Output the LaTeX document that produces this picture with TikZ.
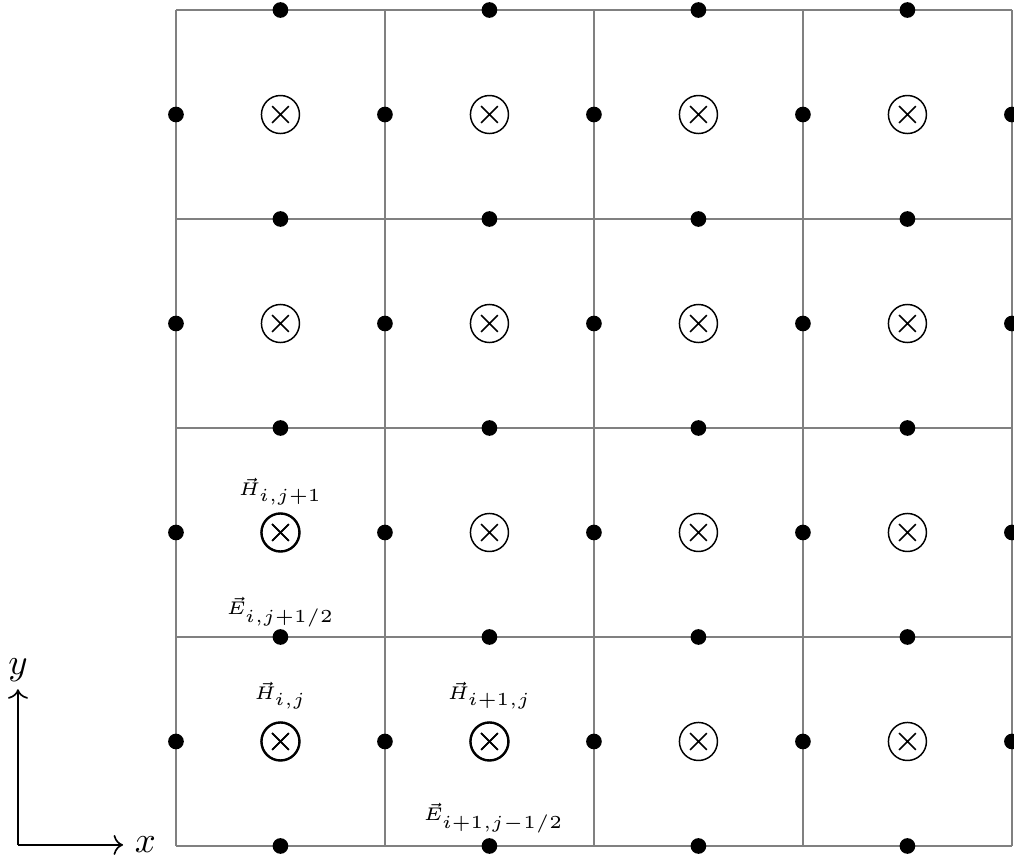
\documentclass[tikz,border=0pt]{standalone}
\usetikzlibrary{arrows.meta}
\tikzset{
  gridline/.style={draw=gray, line width=0.45pt},
  edot/.style={circle, fill=black, inner sep=0pt, minimum size=0.15cm},
  hfield/.style={circle, draw=black, inner sep=0pt, minimum size=0.364cm, line width=0.4pt,
    path picture={\draw[line width=0.45pt] ([shift={(-0.08cm,-0.08cm)}]path picture bounding box.center) -- ([shift={(0.08cm,0.08cm)}]path picture bounding box.center)
      ([shift={(-0.08cm,0.08cm)}]path picture bounding box.center) -- ([shift={(0.08cm,-0.08cm)}]path picture bounding box.center);}},
  hbold/.style={hfield, line width=0.65pt},
  lbl/.style={font=\tiny, inner sep=0pt},
  axis/.style={->, line width=0.45pt}
}
\begin{document}
\begin{tikzpicture}[x=2cm,y=2cm]
\useasboundingbox (-0.842,-0.067) rectangle (4.010,4.048);
% grid
\foreach \k in {0,...,4}{
  \draw[gridline] (\k,0) -- (\k,4);
  \draw[gridline] (0,\k) -- (4,\k);
}
% H field nodes
\foreach \i in {0,...,3}{
  \foreach \j in {0,...,3}{
    \node[hfield] (h-\i-\j) at (\i+0.5,\j+0.5) {};
  }
}
\node[hbold] at (h-0-0) {};
\node[hbold] at (h-1-0) {};
\node[hbold] at (h-0-1) {};
% E dots on vertical edges
\foreach \i in {0,...,4}{
  \foreach \j in {0,...,3}{
    \node[edot] (ev-\i-\j) at (\i,\j+0.5) {};
  }
}
% E dots on horizontal edges
\foreach \i in {0,...,3}{
  \foreach \j in {0,...,4}{
    \node[edot] (eh-\i-\j) at (\i+0.5,\j) {};
  }
}
% labels
\node[lbl] (lh01) at ([yshift=0.39cm]h-0-1.center) {$\vec{H}_{i,j+1}$};
\node[lbl] (le01) at ([yshift=0.24cm]eh-0-1.center) {$\vec{E}_{i,j+1/2}$};
\node[lbl] (lh00) at ([yshift=0.44cm]h-0-0.center) {$\vec{H}_{i,j}$};
\node[lbl] (lh10) at ([yshift=0.44cm]h-1-0.center) {$\vec{H}_{i+1,j}$};
\node[lbl] (le10) at ([xshift=0.04cm,yshift=0.27cm]eh-1-0.center) {$\vec{E}_{i+1,j-1/2}$};
% axes
\coordinate (o) at (-0.756,0.005);
\coordinate (ytip) at (-0.756,0.75);
\coordinate (xtip) at (-0.253,0.005);
\draw[axis] (o) -- (ytip);
\draw[axis] (o) -- (xtip);
\node[anchor=south, inner sep=2pt] (ylab) at (ytip) {$y$};
\node[anchor=west, inner sep=3pt] (xlab) at (xtip) {$x$};
\end{tikzpicture}
\end{document}
